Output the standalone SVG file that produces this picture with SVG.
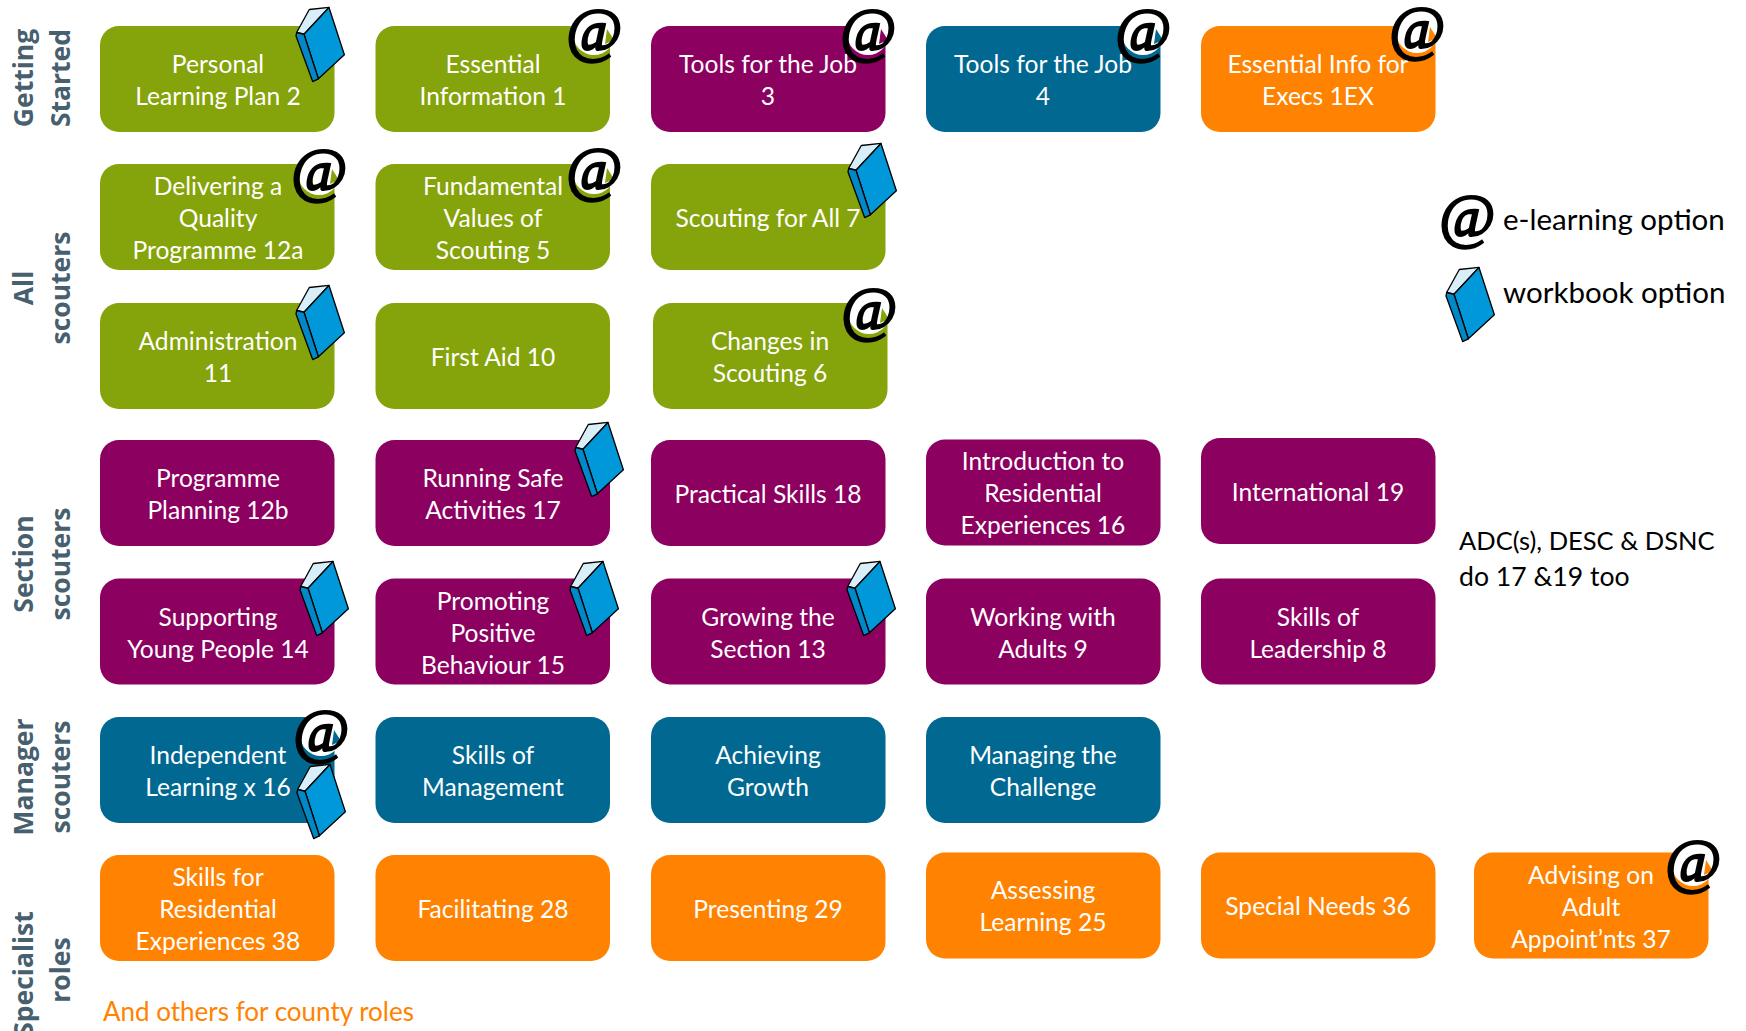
<svg xmlns="http://www.w3.org/2000/svg" width="1746" height="1031" viewBox="0 0 1746 1031">
<style>
.b{rx:19px;ry:19px}
.g{fill:#85a30a}.p{fill:#8c0060}.t{fill:#006891}.o{fill:#ff8200}
.l{font:400 24.6px Lato,"Open Sans",sans-serif;fill:#fff;text-anchor:middle}
.k{font:400 29.500px Lato,"Open Sans",sans-serif;fill:#000}
.n{font:400 25.500px Lato,"Open Sans",sans-serif;fill:#000}
.m{font:400 26.600px Lato,"Open Sans",sans-serif;fill:#000}
.f{font:400 26px Lato,"Open Sans",sans-serif;fill:#ff8200}
.h{font:700 26.500px "Open Sans",sans-serif;fill:#47606f;text-anchor:middle}
.at{font:italic 400 61px "Liberation Serif",serif;fill:#000;stroke:#000;stroke-width:2.2;text-anchor:middle}
</style>
<defs>
<g id="book" transform="translate(0 1.500) scale(1.02 1.05)" stroke="#000" stroke-width="1.3" stroke-linejoin="round">
<path d="M-22.9-11.4-10.5-33.3 8.8-35.3-15.7-9.8Z" fill="#d8eef8"/>
<path d="M-15.7-9.8 8.8-35.3 23.9 9.8-1.6 32.7Z" fill="#0098d8"/>
<path d="M-22.9-11.4-15.7-9.8-1.6 32.7-7.2 35.3-23.5-8.2Z" fill="#0088c8"/>
</g>
<circle id="atbg" r="21" fill="#fff"/>
<path id="wedge" d="M13-5 20 6 11 10Z"/>
</defs>
<g id="connectors"/>
<g id="headings">
<text class="h" transform="translate(33 78) rotate(-90)">Getting</text><text class="h" transform="translate(70 78) rotate(-90)">Started</text>
<text class="h" transform="translate(33 288) rotate(-90)">All</text><text class="h" transform="translate(70 288) rotate(-90)">scouters</text>
<text class="h" transform="translate(33 564) rotate(-90)">Section</text><text class="h" transform="translate(70 564) rotate(-90)">scouters</text>
<text class="h" transform="translate(33 777) rotate(-90)">Manager</text><text class="h" transform="translate(70 777) rotate(-90)">scouters</text>
<text class="h" transform="translate(33 974) rotate(-90)">Specialist</text><text class="h" transform="translate(70 970) rotate(-90)">roles</text>
</g>
<g id="n1"><rect class="b g" x="100" y="26" width="234.500" height="106"/><text class="l" x="218" y="73">Personal</text><text class="l" x="218" y="105">Learning Plan 2</text></g>
<g id="n2"><rect class="b g" x="375.500" y="26" width="234.500" height="106"/><text class="l" x="493" y="73">Essential</text><text class="l" x="493" y="105">Information 1</text></g>
<g id="n3"><rect class="b p" x="651" y="26" width="234.500" height="106"/><text class="l" x="768" y="73">Tools for the Job</text><text class="l" x="768" y="105">3</text></g>
<g id="n4"><rect class="b t" x="926" y="26" width="234.500" height="106"/><text class="l" x="1043" y="73">Tools for the Job</text><text class="l" x="1043" y="105">4</text></g>
<g id="n5"><rect class="b o" x="1201" y="26" width="234.500" height="106"/><text class="l" x="1318" y="73">Essential Info for</text><text class="l" x="1318" y="105">Execs 1EX</text></g>
<g id="n6"><rect class="b g" x="100" y="164" width="234.500" height="106"/><text class="l" x="218" y="195">Delivering a</text><text class="l" x="218" y="227">Quality</text><text class="l" x="218" y="259">Programme 12a</text></g>
<g id="n7"><rect class="b g" x="375.500" y="164" width="234.500" height="106"/><text class="l" x="493" y="195">Fundamental</text><text class="l" x="493" y="227">Values of</text><text class="l" x="493" y="259">Scouting 5</text></g>
<g id="n8"><rect class="b g" x="651" y="164" width="234.500" height="106"/><text class="l" x="768" y="227">Scouting for All 7</text></g>
<g id="n9"><rect class="b g" x="100" y="303" width="234.500" height="106"/><text class="l" x="218" y="350">Administration</text><text class="l" x="218" y="382">11</text></g>
<g id="n10"><rect class="b g" x="375.500" y="303" width="234.500" height="106"/><text class="l" x="493" y="366">First Aid 10</text></g>
<g id="n11"><rect class="b g" x="653" y="303" width="234.500" height="106"/><text class="l" x="770" y="350">Changes in</text><text class="l" x="770" y="382">Scouting 6</text></g>
<g id="n12"><rect class="b p" x="100" y="440" width="234.500" height="106"/><text class="l" x="218" y="487">Programme</text><text class="l" x="218" y="519">Planning 12b</text></g>
<g id="n13"><rect class="b p" x="375.500" y="440" width="234.500" height="106"/><text class="l" x="493" y="487">Running Safe</text><text class="l" x="493" y="519">Activities 17</text></g>
<g id="n14"><rect class="b p" x="651" y="440" width="234.500" height="106"/><text class="l" x="768" y="503">Practical Skills 18</text></g>
<g id="n15"><rect class="b p" x="926" y="439.500" width="234.500" height="106"/><text class="l" x="1043" y="470">Introduction to</text><text class="l" x="1043" y="502">Residential</text><text class="l" x="1043" y="534">Experiences 16</text></g>
<g id="n16"><rect class="b p" x="1201" y="438" width="234.500" height="106"/><text class="l" x="1318" y="501">International 19</text></g>
<g id="n17"><rect class="b p" x="100" y="578.500" width="234.500" height="106"/><text class="l" x="218" y="626">Supporting</text><text class="l" x="218" y="658">Young People 14</text></g>
<g id="n18"><rect class="b p" x="375.500" y="578.500" width="234.500" height="106"/><text class="l" x="493" y="610">Promoting</text><text class="l" x="493" y="642">Positive</text><text class="l" x="493" y="674">Behaviour 15</text></g>
<g id="n19"><rect class="b p" x="651" y="578.500" width="234.500" height="106"/><text class="l" x="768" y="626">Growing the</text><text class="l" x="768" y="658">Section 13</text></g>
<g id="n20"><rect class="b p" x="926" y="578.500" width="234.500" height="106"/><text class="l" x="1043" y="626">Working with</text><text class="l" x="1043" y="658">Adults 9</text></g>
<g id="n21"><rect class="b p" x="1201" y="578.500" width="234.500" height="106"/><text class="l" x="1318" y="626">Skills of</text><text class="l" x="1318" y="658">Leadership 8</text></g>
<g id="n22"><rect class="b t" x="100" y="717" width="234.500" height="106"/><text class="l" x="218" y="764">Independent</text><text class="l" x="218" y="796">Learning x 16</text></g>
<g id="n23"><rect class="b t" x="375.500" y="717" width="234.500" height="106"/><text class="l" x="493" y="764">Skills of</text><text class="l" x="493" y="796">Management</text></g>
<g id="n24"><rect class="b t" x="651" y="717" width="234.500" height="106"/><text class="l" x="768" y="764">Achieving</text><text class="l" x="768" y="796">Growth</text></g>
<g id="n25"><rect class="b t" x="926" y="717" width="234.500" height="106"/><text class="l" x="1043" y="764">Managing the</text><text class="l" x="1043" y="796">Challenge</text></g>
<g id="n26"><rect class="b o" x="100" y="855" width="234.500" height="106"/><text class="l" x="218" y="886">Skills for</text><text class="l" x="218" y="918">Residential</text><text class="l" x="218" y="950">Experiences 38</text></g>
<g id="n27"><rect class="b o" x="375.500" y="855" width="234.500" height="106"/><text class="l" x="493" y="918">Facilitating 28</text></g>
<g id="n28"><rect class="b o" x="651" y="855" width="234.500" height="106"/><text class="l" x="768" y="918">Presenting 29</text></g>
<g id="n29"><rect class="b o" x="926" y="852.500" width="234.500" height="106"/><text class="l" x="1043" y="899">Assessing</text><text class="l" x="1043" y="931">Learning 25</text></g>
<g id="n30"><rect class="b o" x="1201" y="852.500" width="234.500" height="106"/><text class="l" x="1318" y="915">Special Needs 36</text></g>
<g id="n31"><rect class="b o" x="1474" y="852.500" width="234.500" height="106"/><text class="l" x="1591" y="884">Advising on</text><text class="l" x="1591" y="916">Adult</text><text class="l" x="1591" y="948">Appoint’nts 37</text></g>
<g id="icons">
<use href="#atbg" x="594" y="34"/><use href="#wedge" class="g" x="594" y="34"/><text class="at" x="594" y="50">@</text>
<use href="#atbg" x="868" y="34"/><use href="#wedge" class="p" x="868" y="34"/><text class="at" x="868" y="50">@</text>
<use href="#atbg" x="1143" y="34"/><use href="#wedge" class="t" x="1143" y="34"/><text class="at" x="1143" y="50">@</text>
<use href="#atbg" x="1417" y="32"/><use href="#wedge" class="o" x="1417" y="32"/><text class="at" x="1417" y="48">@</text>
<use href="#atbg" x="319" y="174"/><use href="#wedge" class="g" x="319" y="174"/><text class="at" x="319" y="190">@</text>
<use href="#atbg" x="594" y="173"/><use href="#wedge" class="g" x="594" y="173"/><text class="at" x="594" y="189">@</text>
<use href="#atbg" x="869" y="313"/><use href="#wedge" class="g" x="869" y="313"/><text class="at" x="869" y="329">@</text>
<use href="#atbg" x="321" y="735"/><use href="#wedge" class="t" x="321" y="735"/><text class="at" x="321" y="751">@</text>
<use href="#atbg" x="1693" y="865"/><use href="#wedge" class="o" x="1693" y="865"/><text class="at" x="1693" y="881">@</text>
<text class="at" x="1467" y="236">@</text>
<use href="#book" x="320" y="43"/><use href="#book" x="872" y="179"/><use href="#book" x="320" y="321"/><use href="#book" x="599" y="458"/><use href="#book" x="324" y="597"/><use href="#book" x="594" y="597"/><use href="#book" x="871" y="597"/><use href="#book" x="321" y="800"/><use href="#book" x="1470" y="303"/>
</g>
<g id="notes">
<text class="k" x="1503" y="230">e-learning option</text>
<text class="k" x="1503" y="303">workbook option</text>
<text class="n" x="1459" y="550">ADC(s), DESC &amp; DSNC</text>
<text class="m" x="1459" y="586">do 17 &amp;19 too</text>
<text class="f" x="103" y="1021">And others for county roles</text>
</g>
</svg>
